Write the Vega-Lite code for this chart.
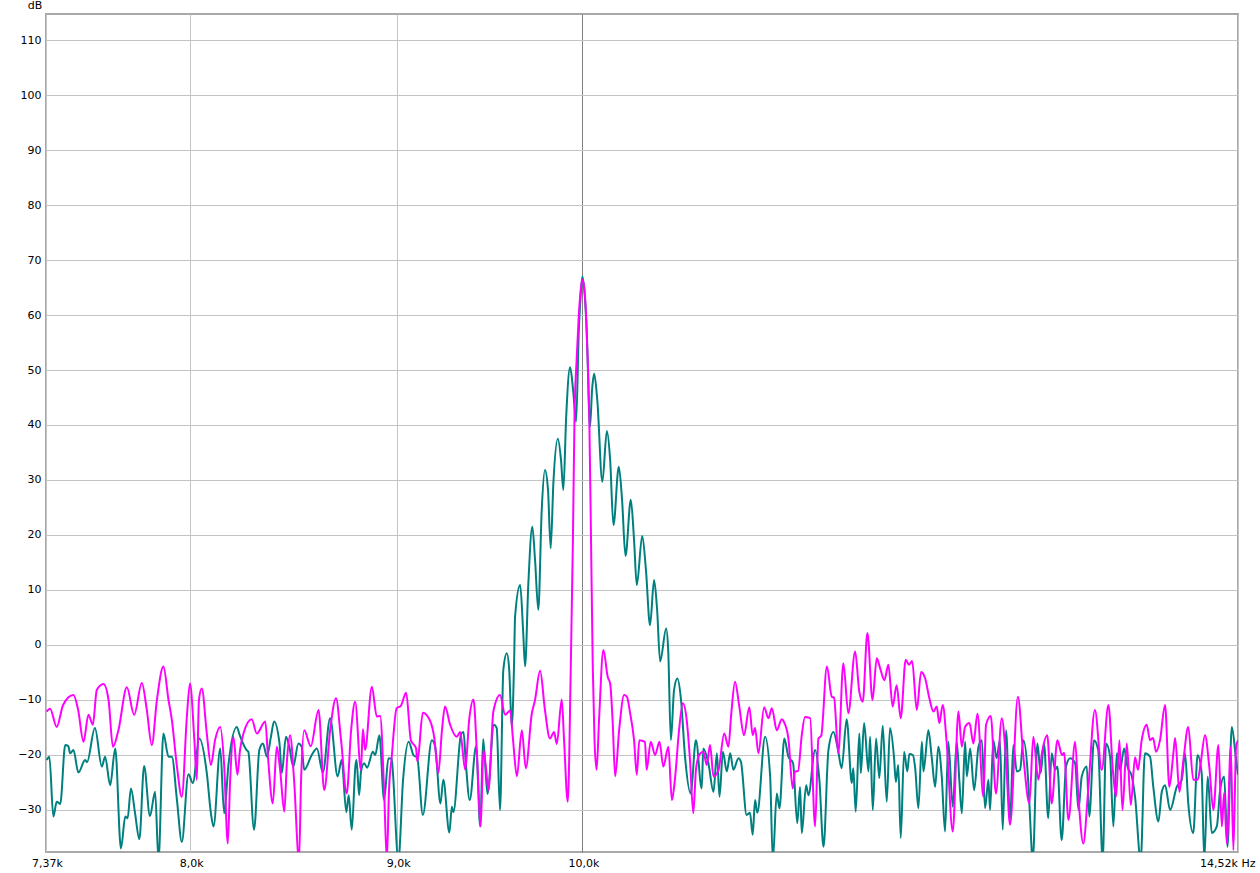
{
"$schema": "https://vega.github.io/schema/vega-lite/v6.json",
"width": 1192, "height": 838,
"autosize": {"type": "none"},
"padding": {"left": 46, "top": 14, "right": 22, "bottom": 21},
"background": "white",
"config": {"view": {"stroke": "#a8a8a8", "strokeWidth": 2}, "axis": {"labelFont": "DejaVu Sans", "labelFontSize": 11, "labelColor": "#000000"}},
"datasets": {
"pink": [
{"f":7373,"db":-12.1},{"f":7387,"db":-11.6},{"f":7415,"db":-14.9},{"f":7442,"db":-10.9},{"f":7486,"db":-9.1},{"f":7506,"db":-11.8},{"f":7529,"db":-17.6},{"f":7550,"db":-12.7},{"f":7569,"db":-14.5},{"f":7586,"db":-8.2},{"f":7615,"db":-7.1},{"f":7637,"db":-10.0},{"f":7656,"db":-18.5},{"f":7680,"db":-15.5},{"f":7717,"db":-7.7},{"f":7749,"db":-12.7},{"f":7783,"db":-6.9},{"f":7805,"db":-11.8},{"f":7827,"db":-18.2},{"f":7850,"db":-10.0},{"f":7879,"db":-3.9},{"f":7902,"db":-10.0},{"f":7917,"db":-13.6},{"f":7940,"db":-22.1},{"f":7962,"db":-27.6},{"f":7985,"db":-13.0},{"f":7999,"db":-7.0},{"f":8019,"db":-17.3},{"f":8030,"db":-24.5},{"f":8040,"db":-10.0},{"f":8053,"db":-7.9},{"f":8076,"db":-16.1},{"f":8095,"db":-21.8},{"f":8114,"db":-17.3},{"f":8138,"db":-14.9},{"f":8156,"db":-21.8},{"f":8173,"db":-36.1},{"f":8184,"db":-24.5},{"f":8199,"db":-16.7},{"f":8218,"db":-23.6},{"f":8230,"db":-19.1},{"f":8246,"db":-16.1},{"f":8285,"db":-13.5},{"f":8309,"db":-16.1},{"f":8349,"db":-13.9},{"f":8363,"db":-20.9},{"f":8385,"db":-28.8},{"f":8404,"db":-18.5},{"f":8420,"db":-22.7},{"f":8440,"db":-30.3},{"f":8453,"db":-20.9},{"f":8468,"db":-16.4},{"f":8487,"db":-24.5},{"f":8511,"db":-39.1},{"f":8521,"db":-24.5},{"f":8536,"db":-15.5},{"f":8568,"db":-18.4},{"f":8606,"db":-11.8},{"f":8634,"db":-26.4},{"f":8663,"db":-15.5},{"f":8692,"db":-9.7},{"f":8717,"db":-17.3},{"f":8745,"db":-27.0},{"f":8767,"db":-15.5},{"f":8787,"db":-10.3},{"f":8816,"db":-22.7},{"f":8826,"db":-15.3},{"f":8837,"db":-19.1},{"f":8871,"db":-7.6},{"f":8896,"db":-13.0},{"f":8913,"db":-12.9},{"f":8933,"db":-26.4},{"f":8947,"db":-39.1},{"f":8958,"db":-26.4},{"f":8972,"db":-20.3},{"f":8997,"db":-11.5},{"f":9018,"db":-11.1},{"f":9046,"db":-8.7},{"f":9070,"db":-17.3},{"f":9097,"db":-18.8},{"f":9104,"db":-21.2},{"f":9132,"db":-12.3},{"f":9170,"db":-13.8},{"f":9191,"db":-16.7},{"f":9213,"db":-23.3},{"f":9232,"db":-15.5},{"f":9248,"db":-11.2},{"f":9275,"db":-14.5},{"f":9310,"db":-16.7},{"f":9328,"db":-15.8},{"f":9355,"db":-22.7},{"f":9376,"db":-13.6},{"f":9399,"db":-9.9},{"f":9419,"db":-20.9},{"f":9438,"db":-33.0},{"f":9452,"db":-19.1},{"f":9467,"db":-22.7},{"f":9479,"db":-26.4},{"f":9506,"db":-12.1},{"f":9542,"db":-9.1},{"f":9570,"db":-12.7},{"f":9597,"db":-11.9},{"f":9613,"db":-17.3},{"f":9634,"db":-23.9},{"f":9661,"db":-15.5},{"f":9683,"db":-22.4},{"f":9716,"db":-12.5},{"f":9734,"db":-10.0},{"f":9762,"db":-4.7},{"f":9789,"db":-11.8},{"f":9817,"db":-17.0},{"f":9840,"db":-15.8},{"f":9855,"db":-18.0},{"f":9883,"db":-9.9},{"f":9896,"db":-17.3},{"f":9917,"db":-28.5},{"f":9934,"db":-3.9},{"f":9946,"db":19.1},{"f":9955,"db":41.5},{"f":9967,"db":51.8},{"f":9979,"db":59.7},{"f":9990,"db":64.5},{"f":10000,"db":66.4},{"f":10012,"db":64.5},{"f":10021,"db":59.7},{"f":10032,"db":50.0},{"f":10039,"db":41.5},{"f":10049,"db":19.1},{"f":10059,"db":-3.9},{"f":10069,"db":-17.3},{"f":10081,"db":-22.7},{"f":10095,"db":-13.6},{"f":10120,"db":-0.9},{"f":10145,"db":-5.8},{"f":10159,"db":-7.0},{"f":10173,"db":-13.6},{"f":10188,"db":-23.9},{"f":10211,"db":-15.5},{"f":10240,"db":-9.1},{"f":10256,"db":-9.4},{"f":10275,"db":-12.4},{"f":10298,"db":-17.3},{"f":10314,"db":-23.6},{"f":10329,"db":-17.3},{"f":10362,"db":-17.6},{"f":10372,"db":-22.7},{"f":10396,"db":-17.6},{"f":10422,"db":-20.0},{"f":10448,"db":-17.6},{"f":10471,"db":-22.1},{"f":10501,"db":-18.5},{"f":10522,"db":-28.2},{"f":10541,"db":-24.2},{"f":10565,"db":-15.5},{"f":10588,"db":-10.6},{"f":10611,"db":-13.6},{"f":10631,"db":-20.9},{"f":10651,"db":-30.6},{"f":10667,"db":-22.7},{"f":10687,"db":-20.0},{"f":10712,"db":-19.4},{"f":10733,"db":-21.8},{"f":10753,"db":-18.2},{"f":10774,"db":-23.9},{"f":10805,"db":-22.7},{"f":10840,"db":-16.1},{"f":10866,"db":-18.5},{"f":10883,"db":-12.7},{"f":10907,"db":-6.7},{"f":10932,"db":-10.9},{"f":10963,"db":-16.4},{"f":10996,"db":-11.3},{"f":11017,"db":-16.4},{"f":11032,"db":-15.1},{"f":11053,"db":-19.7},{"f":11089,"db":-11.3},{"f":11116,"db":-13.3},{"f":11138,"db":-11.5},{"f":11169,"db":-15.5},{"f":11201,"db":-13.5},{"f":11215,"db":-14.0},{"f":11243,"db":-17.0},{"f":11271,"db":-26.1},{"f":11285,"db":-23.0},{"f":11305,"db":-22.9},{"f":11329,"db":-16.4},{"f":11350,"db":-13.1},{"f":11383,"db":-13.3},{"f":11415,"db":-33.0},{"f":11437,"db":-17.0},{"f":11455,"db":-16.5},{"f":11492,"db":-3.9},{"f":11524,"db":-9.4},{"f":11539,"db":-9.6},{"f":11567,"db":-19.7},{"f":11600,"db":-3.3},{"f":11633,"db":-12.4},{"f":11678,"db":-1.2},{"f":11706,"db":-8.5},{"f":11729,"db":-10.3},{"f":11760,"db":2.2},{"f":11794,"db":-10.0},{"f":11823,"db":-2.4},{"f":11845,"db":-4.2},{"f":11874,"db":-6.4},{"f":11901,"db":-3.6},{"f":11930,"db":-11.2},{"f":11957,"db":-7.3},{"f":11985,"db":-13.3},{"f":12019,"db":-2.7},{"f":12042,"db":-3.6},{"f":12063,"db":-2.9},{"f":12095,"db":-11.8},{"f":12125,"db":-4.9},{"f":12153,"db":-6.1},{"f":12182,"db":-9.7},{"f":12210,"db":-12.1},{"f":12233,"db":-11.2},{"f":12251,"db":-14.2},{"f":12275,"db":-10.9},{"f":12302,"db":-17.6},{"f":12345,"db":-33.9},{"f":12385,"db":-12.1},{"f":12409,"db":-18.5},{"f":12432,"db":-14.9},{"f":12463,"db":-14.2},{"f":12491,"db":-17.9},{"f":12520,"db":-12.5},{"f":12562,"db":-27.6},{"f":12581,"db":-14.5},{"f":12615,"db":-12.9},{"f":12652,"db":-27.0},{"f":12694,"db":-13.3},{"f":12725,"db":-20.9},{"f":12754,"db":-32.7},{"f":12811,"db":-9.4},{"f":12851,"db":-20.3},{"f":12895,"db":-28.8},{"f":12924,"db":-16.7},{"f":12961,"db":-24.5},{"f":12988,"db":-19.6},{"f":13027,"db":-16.4},{"f":13060,"db":-28.8},{"f":13102,"db":-17.3},{"f":13137,"db":-20.0},{"f":13152,"db":-19.6},{"f":13185,"db":-31.8},{"f":13235,"db":-17.6},{"f":13260,"db":-27.6},{"f":13297,"db":-36.1},{"f":13333,"db":-26.7},{"f":13385,"db":-11.8},{"f":13437,"db":-22.7},{"f":13488,"db":-10.9},{"f":13522,"db":-22.7},{"f":13547,"db":-27.6},{"f":13573,"db":-17.3},{"f":13596,"db":-30.0},{"f":13630,"db":-17.9},{"f":13661,"db":-29.1},{"f":13694,"db":-20.4},{"f":13717,"db":-22.7},{"f":13746,"db":-17.3},{"f":13785,"db":-14.5},{"f":13811,"db":-17.3},{"f":13835,"db":-16.9},{"f":13859,"db":-19.4},{"f":13890,"db":-17.3},{"f":13930,"db":-10.9},{"f":13964,"db":-25.8},{"f":13996,"db":-19.6},{"f":14010,"db":-16.9},{"f":14044,"db":-26.7},{"f":14076,"db":-20.9},{"f":14115,"db":-14.9},{"f":14155,"db":-24.5},{"f":14191,"db":-24.5},{"f":14215,"db":-21.5},{"f":14250,"db":-16.4},{"f":14285,"db":-22.2},{"f":14318,"db":-30.0},{"f":14359,"db":-18.2},{"f":14387,"db":-33.0},{"f":14406,"db":-26.9},{"f":14428,"db":-36.1},{"f":14460,"db":-18.5},{"f":14482,"db":-37.3},{"f":14504,"db":-18.5},{"f":14520,"db":-17.3}
],
"teal": [
{"f":7373,"db":-20.9},{"f":7384,"db":-20.3},{"f":7401,"db":-31.2},{"f":7415,"db":-28.5},{"f":7430,"db":-28.9},{"f":7451,"db":-18.2},{"f":7464,"db":-18.4},{"f":7472,"db":-19.7},{"f":7486,"db":-19.1},{"f":7507,"db":-23.2},{"f":7536,"db":-20.9},{"f":7544,"db":-21.3},{"f":7578,"db":-15.1},{"f":7608,"db":-22.1},{"f":7622,"db":-20.3},{"f":7644,"db":-25.5},{"f":7666,"db":-18.8},{"f":7691,"db":-37.0},{"f":7710,"db":-31.2},{"f":7720,"db":-31.5},{"f":7735,"db":-26.1},{"f":7753,"db":-30.6},{"f":7772,"db":-35.3},{"f":7793,"db":-22.0},{"f":7819,"db":-31.1},{"f":7842,"db":-26.7},{"f":7857,"db":-39.1},{"f":7879,"db":-16.1},{"f":7902,"db":-20.3},{"f":7917,"db":-20.3},{"f":7940,"db":-28.2},{"f":7962,"db":-35.8},{"f":7992,"db":-23.5},{"f":8012,"db":-25.1},{"f":8042,"db":-17.0},{"f":8076,"db":-23.3},{"f":8095,"db":-30.6},{"f":8107,"db":-33.0},{"f":8138,"db":-18.8},{"f":8156,"db":-30.6},{"f":8176,"db":-21.8},{"f":8215,"db":-14.9},{"f":8227,"db":-16.2},{"f":8261,"db":-19.1},{"f":8269,"db":-19.4},{"f":8296,"db":-33.6},{"f":8321,"db":-19.1},{"f":8338,"db":-17.9},{"f":8357,"db":-20.3},{"f":8376,"db":-16.7},{"f":8391,"db":-13.9},{"f":8417,"db":-17.9},{"f":8428,"db":-23.3},{"f":8448,"db":-16.7},{"f":8464,"db":-18.5},{"f":8483,"db":-22.1},{"f":8508,"db":-17.9},{"f":8524,"db":-18.5},{"f":8536,"db":-22.7},{"f":8573,"db":-20.0},{"f":8598,"db":-18.8},{"f":8627,"db":-23.2},{"f":8663,"db":-13.3},{"f":8700,"db":-23.9},{"f":8720,"db":-20.9},{"f":8743,"db":-30.4},{"f":8755,"db":-27.3},{"f":8770,"db":-33.6},{"f":8789,"db":-21.8},{"f":8794,"db":-20.9},{"f":8807,"db":-27.3},{"f":8817,"db":-22.9},{"f":8832,"db":-21.5},{"f":8847,"db":-22.3},{"f":8876,"db":-19.4},{"f":8888,"db":-20.0},{"f":8909,"db":-16.4},{"f":8933,"db":-28.2},{"f":8955,"db":-20.6},{"f":8972,"db":-20.7},{"f":8977,"db":-22.7},{"f":9006,"db":-39.1},{"f":9030,"db":-24.5},{"f":9059,"db":-17.6},{"f":9083,"db":-20.0},{"f":9103,"db":-20.5},{"f":9132,"db":-30.9},{"f":9179,"db":-17.3},{"f":9196,"db":-18.4},{"f":9224,"db":-28.8},{"f":9239,"db":-24.5},{"f":9271,"db":-34.1},{"f":9284,"db":-29.4},{"f":9292,"db":-30.4},{"f":9333,"db":-16.2},{"f":9346,"db":-15.8},{"f":9357,"db":-20.9},{"f":9379,"db":-28.2},{"f":9413,"db":-18.4},{"f":9435,"db":-33.0},{"f":9451,"db":-17.1},{"f":9474,"db":-27.1},{"f":9509,"db":-14.5},{"f":9524,"db":-15.1},{"f":9542,"db":-30.0},{"f":9560,"db":-4.5},{"f":9579,"db":-1.5},{"f":9592,"db":-4.5},{"f":9606,"db":-14.9},{"f":9619,"db":-2.7},{"f":9624,"db":5.1},{"f":9652,"db":10.9},{"f":9668,"db":2.7},{"f":9679,"db":-3.9},{"f":9697,"db":11.2},{"f":9719,"db":21.5},{"f":9734,"db":15.5},{"f":9752,"db":6.4},{"f":9771,"db":24.5},{"f":9789,"db":31.8},{"f":9806,"db":28.2},{"f":9821,"db":17.6},{"f":9836,"db":29.4},{"f":9861,"db":37.5},{"f":9879,"db":33.6},{"f":9892,"db":28.2},{"f":9908,"db":41.5},{"f":9930,"db":50.5},{"f":9947,"db":46.4},{"f":9964,"db":40.6},{"f":9979,"db":56.7},{"f":9990,"db":63.6},{"f":10000,"db":67.0},{"f":10013,"db":63.6},{"f":10025,"db":56.7},{"f":10043,"db":39.7},{"f":10055,"db":46.4},{"f":10067,"db":49.3},{"f":10085,"db":44.5},{"f":10114,"db":29.7},{"f":10140,"db":38.9},{"f":10159,"db":33.6},{"f":10178,"db":21.8},{"f":10209,"db":32.4},{"f":10228,"db":26.4},{"f":10248,"db":16.2},{"f":10279,"db":26.4},{"f":10298,"db":19.1},{"f":10314,"db":10.9},{"f":10346,"db":19.8},{"f":10368,"db":13.6},{"f":10392,"db":3.6},{"f":10416,"db":11.8},{"f":10434,"db":6.4},{"f":10452,"db":-3.0},{"f":10488,"db":3.0},{"f":10500,"db":-0.9},{"f":10516,"db":-17.3},{"f":10535,"db":-8.2},{"f":10555,"db":-6.1},{"f":10577,"db":-10.0},{"f":10601,"db":-20.3},{"f":10635,"db":-27.0},{"f":10667,"db":-17.3},{"f":10702,"db":-26.1},{"f":10712,"db":-18.8},{"f":10743,"db":-21.5},{"f":10774,"db":-26.7},{"f":10795,"db":-19.7},{"f":10811,"db":-27.6},{"f":10832,"db":-19.4},{"f":10856,"db":-23.0},{"f":10877,"db":-19.7},{"f":10897,"db":-22.7},{"f":10928,"db":-20.6},{"f":10944,"db":-21.3},{"f":10979,"db":-30.9},{"f":11000,"db":-30.5},{"f":11017,"db":-34.5},{"f":11032,"db":-28.2},{"f":11046,"db":-30.5},{"f":11095,"db":-16.7},{"f":11127,"db":-23.9},{"f":11144,"db":-39.1},{"f":11169,"db":-27.0},{"f":11186,"db":-29.7},{"f":11217,"db":-17.0},{"f":11243,"db":-20.3},{"f":11273,"db":-21.5},{"f":11300,"db":-32.4},{"f":11318,"db":-25.8},{"f":11329,"db":-34.2},{"f":11357,"db":-25.5},{"f":11372,"db":-27.3},{"f":11415,"db":-19.1},{"f":11443,"db":-24.5},{"f":11470,"db":-36.7},{"f":11502,"db":-19.1},{"f":11535,"db":-15.8},{"f":11565,"db":-19.1},{"f":11589,"db":-22.4},{"f":11622,"db":-13.5},{"f":11656,"db":-25.1},{"f":11666,"db":-22.4},{"f":11682,"db":-30.3},{"f":11706,"db":-16.1},{"f":11716,"db":-23.3},{"f":11738,"db":-14.2},{"f":11767,"db":-23.0},{"f":11778,"db":-16.7},{"f":11796,"db":-30.0},{"f":11818,"db":-17.0},{"f":11840,"db":-24.2},{"f":11863,"db":-14.7},{"f":11890,"db":-28.5},{"f":11912,"db":-15.1},{"f":11939,"db":-20.3},{"f":11952,"db":-24.9},{"f":11968,"db":-21.8},{"f":11985,"db":-35.1},{"f":12008,"db":-19.4},{"f":12030,"db":-23.0},{"f":12044,"db":-19.8},{"f":12068,"db":-20.0},{"f":12084,"db":-22.4},{"f":12106,"db":-29.7},{"f":12130,"db":-17.6},{"f":12141,"db":-23.0},{"f":12175,"db":-15.5},{"f":12199,"db":-20.6},{"f":12222,"db":-25.8},{"f":12244,"db":-18.5},{"f":12268,"db":-23.9},{"f":12291,"db":-33.9},{"f":12314,"db":-17.6},{"f":12345,"db":-29.4},{"f":12373,"db":-17.6},{"f":12392,"db":-24.9},{"f":12409,"db":-30.6},{"f":12432,"db":-17.6},{"f":12444,"db":-23.9},{"f":12468,"db":-18.8},{"f":12496,"db":-26.4},{"f":12527,"db":-18.5},{"f":12551,"db":-17.3},{"f":12574,"db":-29.7},{"f":12598,"db":-24.5},{"f":12610,"db":-30.0},{"f":12633,"db":-17.3},{"f":12657,"db":-20.6},{"f":12681,"db":-17.3},{"f":12701,"db":-33.6},{"f":12725,"db":-15.5},{"f":12754,"db":-31.8},{"f":12778,"db":-18.2},{"f":12803,"db":-23.0},{"f":12827,"db":-22.7},{"f":12851,"db":-17.3},{"f":12881,"db":-22.7},{"f":12895,"db":-28.8},{"f":12920,"db":-39.1},{"f":12954,"db":-17.9},{"f":12978,"db":-23.3},{"f":13003,"db":-17.9},{"f":13034,"db":-31.5},{"f":13060,"db":-19.7},{"f":13085,"db":-22.7},{"f":13102,"db":-22.1},{"f":13134,"db":-35.5},{"f":13167,"db":-22.1},{"f":13197,"db":-20.6},{"f":13235,"db":-21.5},{"f":13260,"db":-30.0},{"f":13285,"db":-23.9},{"f":13323,"db":-22.1},{"f":13342,"db":-31.2},{"f":13378,"db":-17.3},{"f":13410,"db":-19.1},{"f":13444,"db":-39.1},{"f":13470,"db":-17.9},{"f":13501,"db":-20.3},{"f":13526,"db":-33.0},{"f":13553,"db":-19.7},{"f":13578,"db":-22.7},{"f":13609,"db":-18.8},{"f":13635,"db":-22.1},{"f":13669,"db":-23.9},{"f":13694,"db":-27.6},{"f":13738,"db":-39.1},{"f":13771,"db":-19.7},{"f":13811,"db":-20.3},{"f":13837,"db":-25.8},{"f":13877,"db":-32.1},{"f":13904,"db":-26.7},{"f":13930,"db":-25.5},{"f":13970,"db":-30.0},{"f":14023,"db":-25.8},{"f":14063,"db":-24.5},{"f":14089,"db":-19.7},{"f":14115,"db":-28.8},{"f":14155,"db":-34.2},{"f":14190,"db":-20.0},{"f":14223,"db":-23.3},{"f":14244,"db":-39.1},{"f":14272,"db":-23.9},{"f":14305,"db":-34.2},{"f":14346,"db":-33.0},{"f":14373,"db":-26.4},{"f":14406,"db":-23.9},{"f":14433,"db":-36.7},{"f":14469,"db":-14.9},{"f":14504,"db":-20.9},{"f":14520,"db":-23.6}
]
},
"encoding": {
  "x": {"field": "f", "type": "quantitative",
    "scale": {"type": "log", "domain": [7370, 14520], "nice": false},
    "axis": {"values": [7370, 8000, 9000, 10000, 14520], "title": null, "domain": false, "ticks": false, "grid": true,
      "labelExpr": "datum.value == 7370 ? '7,37k' : datum.value == 14520 ? '14,52k Hz' : replace(format(datum.value/1000, '.1f'), '.', ',') + 'k'",
      "labelAlign": {"condition": {"test": "datum.value == 14520", "value": "right"}, "value": "center"},
      "labelOffset": {"condition": {"test": "datum.value == 14520", "value": 17}, "value": 1},
      "labelPadding": 5, "labelFlush": false, "labelOverlap": false, "labelBound": false,
      "gridColor": {"condition": {"test": "datum.value == 10000", "value": "#7f7f7f"}, "value": "#c4c4c4"},
      "gridWidth": 1}},
  "y": {"field": "db", "type": "quantitative",
    "scale": {"domain": [-37.64, 114.73], "nice": false, "zero": false},
    "axis": {"values": [-30, -20, -10, 0, 10, 20, 30, 40, 50, 60, 70, 80, 90, 100, 110], "domain": false, "ticks": false,
      "labelPadding": 5, "gridColor": "#c4c4c4", "gridWidth": 1, "labelOverlap": false,
      "title": "dB", "titleAngle": 0, "titleX": -11.5, "titleY": -8.5, "titleAlign": "center", "titleBaseline": "middle",
      "titleFont": "DejaVu Sans", "titleFontSize": 11, "titleFontWeight": "normal", "titleColor": "#000000"}}
},
"layer": [
  {"data": {"name": "teal"}, "mark": {"type": "line", "color": "#007f7f", "strokeWidth": 2, "interpolate": "monotone", "clip": true}},
  {"data": {"name": "pink"}, "mark": {"type": "line", "color": "#ff00ff", "strokeWidth": 2, "interpolate": "monotone", "clip": true}}
]
}
